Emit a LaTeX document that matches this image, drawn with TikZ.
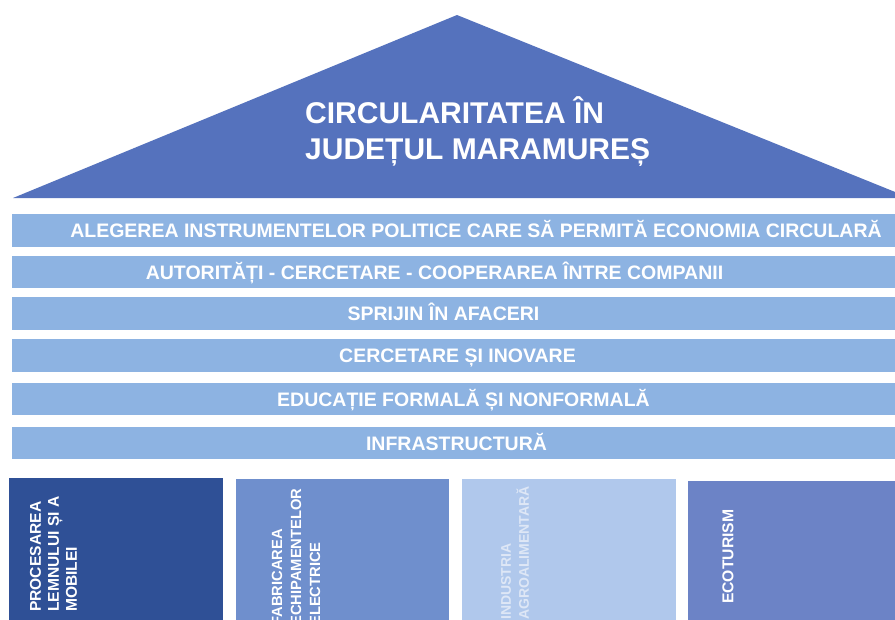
\documentclass[tikz,border=0pt]{standalone}
\usepackage{fontspec}
\setmainfont{Liberation Sans}
\definecolor{roofblue}{RGB}{85,114,189}
\definecolor{barblue}{RGB}{141,179,226}
\definecolor{colA}{RGB}{47,80,150}
\definecolor{colB}{RGB}{111,143,205}
\definecolor{colC}{RGB}{176,200,236}
\definecolor{colD}{RGB}{108,131,198}
\definecolor{colCtext}{RGB}{222,231,246}
\begin{document}
\begin{tikzpicture}[x=1pt,y=-1pt,
  roof/.style={fill=roofblue},
  barbox/.style={fill=barblue},
  bartext/.style={anchor=base,inner sep=0pt,text=white,font=\bfseries\fontsize{19.5}{22}\selectfont},
  titletext/.style={anchor=base west,inner sep=0pt,text=white,font=\bfseries\fontsize{30}{36}\selectfont},
  coltext/.style={rotate=90,anchor=west,align=left,inner sep=0pt,text=white}]
\clip (0,0) rectangle (895,619);
\fill[white] (0,0) rectangle (895,619);
% roof
\fill[roof] (13,198) -- (457,15) -- (910,198) -- cycle;
\node[titletext] (t1) at (305,123) {CIRCULARITATEA ÎN};
\node[titletext] (t2) at (305,159) {JUDEȚUL MARAMUREȘ};
% bars
\fill[barbox] (12,214) rectangle (900,247);
\fill[barbox] (12,256) rectangle (900,288);
\fill[barbox] (12,297) rectangle (900,330);
\fill[barbox] (12,339) rectangle (900,372);
\fill[barbox] (12,383) rectangle (900,415);
\fill[barbox] (12,427) rectangle (900,459);
\node[bartext] (b1) at (476,237.5) {ALEGEREA INSTRUMENTELOR POLITICE CARE SĂ PERMITĂ ECONOMIA CIRCULARĂ};
\node[bartext] (b2) at (434.5,279) {AUTORITĂȚI - CERCETARE - COOPERAREA ÎNTRE COMPANII};
\node[bartext] (b3) at (443.5,320.5) {SPRIJIN ÎN AFACERI};
\node[bartext] (b4) at (457.5,362.5) {CERCETARE ȘI INOVARE};
\node[bartext] (b5) at (463.5,406) {EDUCAȚIE FORMALĂ ȘI NONFORMALĂ};
\node[bartext] (b6) at (456.5,450) {INFRASTRUCTURĂ};
% columns
\fill[colA] (9,478) rectangle (223,630);
\fill[colB] (236,479) rectangle (449,630);
\fill[colC] (462,479) rectangle (676,630);
\fill[colD] (688,481) rectangle (900,630);
\node[coltext,font=\bfseries\fontsize{15.6}{18}\selectfont] (c1) at (53.5,612) {PROCESAREA\\LEMNULUI ȘI A\\MOBILEI};
\node[coltext,font=\bfseries\fontsize{14.75}{19}\selectfont] (c2) at (296,626) {FABRICAREA\\ECHIPAMENTELOR\\ELECTRICE};
\node[coltext,text=colCtext,font=\bfseries\fontsize{14}{18}\selectfont] (c3) at (515,620) {INDUSTRIA\\AGROALIMENTARĂ};
\node[coltext,font=\bfseries\fontsize{15.7}{18}\selectfont] (c4) at (728,604) {ECOTURISM};
\end{tikzpicture}
\end{document}
